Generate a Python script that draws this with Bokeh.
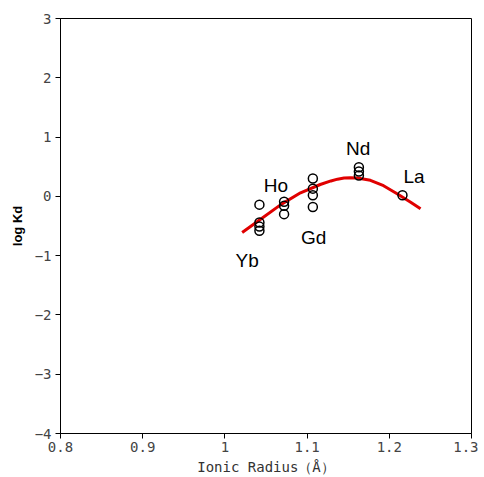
from bokeh.plotting import figure
from bokeh.models import Range1d, FixedTicker, ColumnDataSource
from bokeh.core.properties import value
from bokeh.embed import file_html
from bokeh.resources import INLINE

# ---- data ----
elements = ["Yb", "Ho", "Gd", "Nd", "La"]
radii = [1.042, 1.072, 1.107, 1.163, 1.216]
yb_logkd = [-0.14, -0.44, -0.51, -0.58]
ho_logkd = [-0.09, -0.16, -0.30]
gd_logkd = [0.30, 0.13, 0.02, -0.18]
nd_logkd = [0.49, 0.42, 0.35]
la_logkd = [0.02]

fit_x = [1.021, 1.043, 1.068, 1.092, 1.116, 1.129, 1.137, 1.145, 1.153, 1.161,
         1.177, 1.193, 1.210, 1.226, 1.238]
fit_y = [-0.61, -0.39, -0.14, 0.06, 0.20, 0.26, 0.29, 0.31, 0.315, 0.31,
         0.27, 0.18, 0.04, -0.10, -0.21]

label_text = ["Yb", "Ho", "Gd", "Nd", "La"]
label_x = [1.027, 1.062, 1.108, 1.162, 1.230]
label_y = [-1.08, 0.19, -0.69, 0.80, 0.34]

x_ticks = [0.8, 0.9, 1.0, 1.1, 1.2, 1.3]
x_tick_labels = ["0.8", "0.9", "1", "1.1", "1.2", "1.3"]
y_ticks = [-4, -3, -2, -1, 0, 1, 2, 3]

# ---- build points ----
groups = [yb_logkd, ho_logkd, gd_logkd, nd_logkd, la_logkd]
pt_x, pt_y = [], []
for r, vals in zip(radii, groups):
    for v in vals:
        pt_x.append(r)
        pt_y.append(v)

p = figure(width=478, height=477, output_backend="svg", toolbar_location=None,
           x_range=Range1d(0.8, 1.3), y_range=Range1d(-4, 3),
           min_border_left=60, min_border_right=7, min_border_top=18,
           min_border_bottom=44)
p.background_fill_color = "white"
p.border_fill_color = "white"
p.outline_line_color = "black"
p.outline_line_width = 1
p.grid.visible = False

p.line(fit_x, fit_y, line_color="#e00000", line_width=3)
p.scatter(pt_x, pt_y, marker="circle", size=9, fill_color=None,
          line_color="black", line_width=1.5)

src = ColumnDataSource(dict(x=label_x, y=label_y, t=label_text))
p.text(x="x", y="y", text="t", source=src, text_align="center",
       text_baseline="middle", text_font=value("Liberation Sans"),
       text_font_size="19px", text_color="black")

p.xaxis.ticker = FixedTicker(ticks=x_ticks)
p.xaxis.major_label_overrides = {t: l for t, l in zip(x_ticks, x_tick_labels)}
p.yaxis.ticker = FixedTicker(ticks=y_ticks)
for ax in (p.xaxis, p.yaxis):
    ax.axis_line_color = "black"
    ax.major_tick_line_color = "black"
    ax.major_tick_out = 5
    ax.major_tick_in = 0
    ax.minor_tick_line_color = None
    ax.major_label_text_font = "DejaVu Sans Mono"
    ax.major_label_text_font_size = "14px"
    ax.major_label_text_color = "#444444"

p.xaxis.axis_label = "Ionic Radius（Å）"
p.xaxis.axis_label_text_font = "DejaVu Sans Mono"
p.xaxis.axis_label_text_font_size = "14px"
p.xaxis.axis_label_text_font_style = "normal"
p.xaxis.axis_label_text_color = "#333333"
p.xaxis.axis_label_standoff = 4
p.xaxis.major_label_standoff = 3

p.yaxis.axis_label = "log Kd"
p.yaxis.axis_label_text_font = "Liberation Sans"
p.yaxis.axis_label_text_font_size = "13px"
p.yaxis.axis_label_text_font_style = "bold"
p.yaxis.axis_label_text_color = "black"
p.yaxis.axis_label_standoff = 7
p.yaxis.major_label_standoff = 4

open("out.html", "w").write(file_html(p, INLINE))
